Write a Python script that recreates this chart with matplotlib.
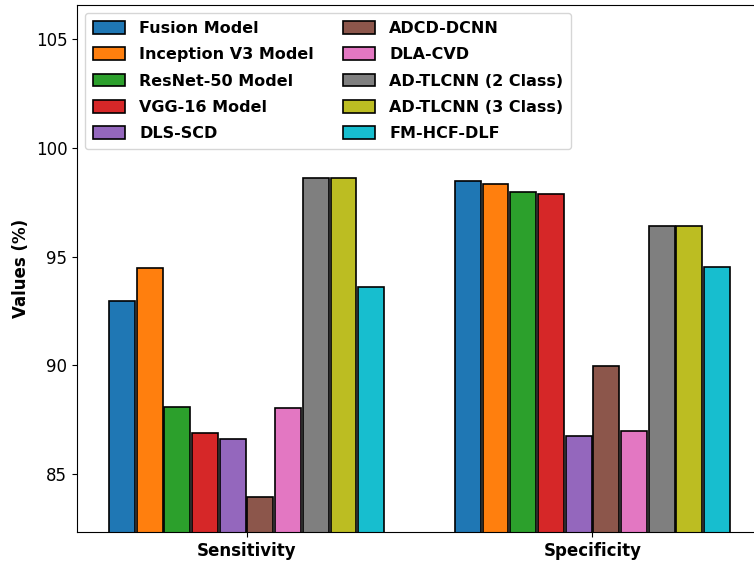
import numpy as np
import matplotlib.pyplot as plt

metrics = ['Sensitivity', 'Specificity']
models = ['Fusion Model', 'Inception V3 Model', 'ResNet-50 Model', 'VGG-16 Model',
          'DLS-SCD', 'ADCD-DCNN', 'DLA-CVD', 'AD-TLCNN (2 Class)',
          'AD-TLCNN (3 Class)', 'FM-HCF-DLF']

sensitivity = [92.95, 94.48, 88.10, 86.91, 86.64, 83.96, 88.03, 98.61, 98.61, 93.59]
specificity = [98.49, 98.33, 97.94, 97.88, 86.76, 89.97, 86.99, 96.38, 96.38, 94.53]

colors = plt.get_cmap('tab10').colors

fig = plt.figure(figsize=(7.54, 5.66), dpi=100)
ax = fig.add_axes([77 / 754, 34 / 566, 685 / 754, 527 / 566])

x = np.arange(len(metrics))
step = 0.08
for i, name in enumerate(models):
    vals = [sensitivity[i], specificity[i]]
    ax.bar(x + (i - 4.5) * step, vals, step * 0.93, label=name,
           color=colors[i], edgecolor='black', linewidth=1.2)

ax.set_ylim(82.35, 106.55)
ax.set_xlim(-0.49, 1.49)
ax.set_yticks([85, 90, 95, 100, 105])
ax.tick_params(axis='y', labelsize=12)
ax.set_xticks(x)
ax.set_xticklabels(metrics, fontsize=12, fontweight='bold')
ax.set_ylabel('Values (%)', fontsize=12, fontweight='bold')

ax.legend(ncol=2, loc='upper left', prop={'weight': 'bold', 'size': 11.5},
          handlelength=2.0, handleheight=0.85, handletextpad=0.9,
          labelspacing=0.71, borderpad=0.5, columnspacing=1.8,
          borderaxespad=0.5)

fig.savefig('out.png', dpi=100)
